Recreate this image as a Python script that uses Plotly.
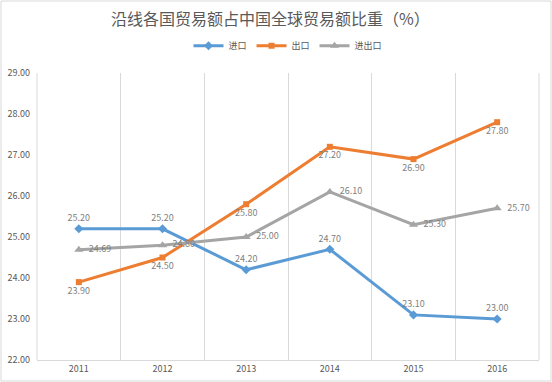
import plotly.graph_objects as go

years = ["2011", "2012", "2013", "2014", "2015", "2016"]
imports = [25.20, 25.20, 24.20, 24.70, 23.10, 23.00]
exports = [23.90, 24.50, 25.80, 27.20, 26.90, 27.80]
total = [24.69, 24.80, 25.00, 26.10, 25.30, 25.70]

FONT = "Noto Sans CJK SC, Liberation Sans, sans-serif"
LBL = "#7f7f7f"

fig = go.Figure()
fig.add_trace(go.Scatter(
    x=years, y=imports, name="进口", mode="lines+markers+text",
    line=dict(color="#5B9BD5", width=3), marker=dict(symbol="diamond", size=7),
    text=[f"{v:.2f}" for v in imports], textposition="top center",
    textfont=dict(size=9, color=LBL),
))
fig.add_trace(go.Scatter(
    x=years, y=exports, name="出口", mode="lines+markers+text",
    line=dict(color="#ED7D31", width=3), marker=dict(symbol="square", size=6),
    text=[f"{v:.2f}" for v in exports], textposition="bottom center",
    textfont=dict(size=9, color=LBL),
))
fig.add_trace(go.Scatter(
    x=years, y=total, name="进出口", mode="lines+markers+text",
    line=dict(color="#A5A5A5", width=3), marker=dict(symbol="triangle-up", size=8),
    text=["  " + f"{v:.2f}" for v in total], textposition="middle right",
    textfont=dict(size=9, color=LBL),
))

fig.update_layout(
    width=552, height=382,
    margin=dict(l=37, r=13, t=73, b=22, autoexpand=False),
    paper_bgcolor="white", plot_bgcolor="white",
    font=dict(family=FONT, color="#595959"),
    title=dict(text="沿线各国贸易额占中国全球贸易额比重（%）", x=0.49, xanchor="center",
               y=0.948, yanchor="middle", font=dict(size=16, color="#595959")),
    legend=dict(orientation="h", x=0.5, xanchor="center", y=1.095, yanchor="middle",
                font=dict(size=9, color="#595959"), itemwidth=30, tracegroupgap=0),
    showlegend=True,
)
fig.update_xaxes(type="category", tickson="boundaries", showgrid=True, gridcolor="#D9D9D9",
                 gridwidth=1, showline=True, linecolor="#D9D9D9", ticks="", automargin=False,
                 tickfont=dict(size=9, color="#595959"), range=[-0.5, 5.5])
fig.update_yaxes(range=[22, 29], dtick=1, tickformat=".2f", showgrid=False, zeroline=False,
                 showline=False, ticks="", automargin=False, ticklabelstandoff=6,
                 tickfont=dict(size=9, color="#595959"))
fig.add_shape(type="rect", xref="paper", yref="paper",
              x0=-36/502, x1=(551-37)/502, y0=-21/287, y1=(73-1)/287 + 1,
              line=dict(color="#D9D9D9", width=1))
fig.add_shape(type="line", xref="paper", yref="paper", x0=0, x1=0, y0=0, y1=1,
              line=dict(color="#D9D9D9", width=1))
fig.add_shape(type="line", xref="paper", yref="paper", x0=1, x1=1, y0=0, y1=1,
              line=dict(color="#D9D9D9", width=1))

fig.write_html("out.html", config={"displayModeBar": False},
               post_script="document.body.style.margin='0';")
